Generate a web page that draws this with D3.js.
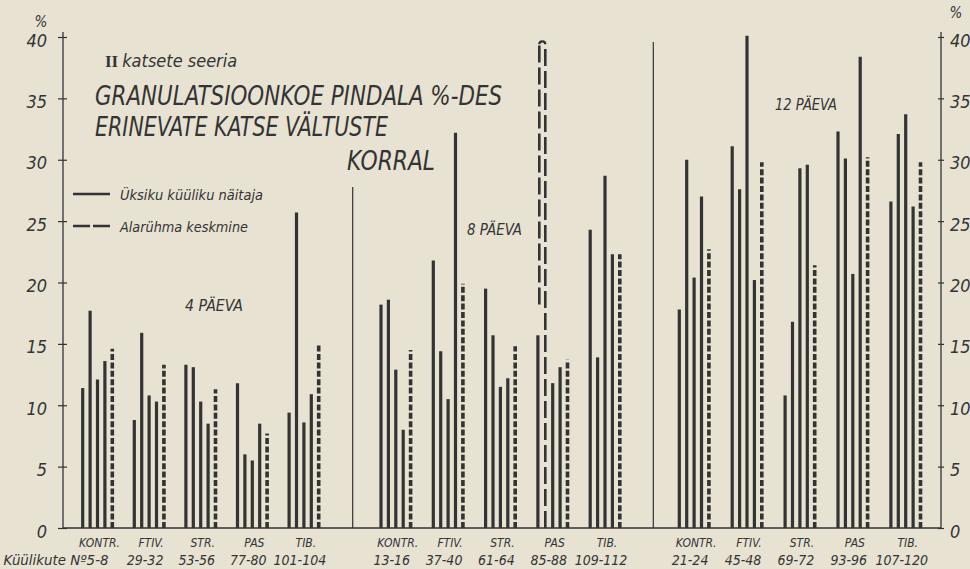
<!DOCTYPE html>
<html><head><meta charset="utf-8">
<script src="https://cdn.jsdelivr.net/npm/d3@7"></script>
<style>
body{margin:0;background:#e7e2d2;}
svg text{font-family:"Liberation Sans Narrow","DejaVu Sans Condensed","Liberation Sans",sans-serif;font-style:italic;fill:#343434;}
</style>
</head><body>
<svg id="c" width="970" height="569"></svg>
<script>
// ---------- DATA ----------
const days = ["4 PÄEVA", "8 PÄEVA", "12 PÄEVA"];
const groups = ["KONTR.", "FTIV.", "STR.", "PAS", "TIB."];
const yTicks = [0, 5, 10, 15, 20, 25, 30, 35, 40];

const animalNos4  = ["5-8", "29-32", "53-56", "77-80", "101-104"];
const animalNos8  = ["13-16", "37-40", "61-64", "85-88", "109-112"];
const animalNos12 = ["21-24", "45-48", "69-72", "93-96", "107-120"];

// individual animals (solid bars), 4 per subgroup
const single4 = [[11.4, 17.7, 12.1, 13.6], [8.8, 15.9, 10.8, 10.3], [13.3, 13.1, 10.3, 8.5], [11.8, 6.0, 5.5, 8.5], [9.4, 25.7, 8.6, 10.9]];
const single8 = [[18.2, 18.6, 12.9, 8.0], [21.8, 14.4, 10.5, 32.2], [19.5, 15.7, 11.5, 12.2], [15.7, 39.4, 11.8, 13.1], [24.3, 13.9, 28.7, 22.3]];
const single12 = [[17.8, 30.0, 20.4, 27.0], [31.1, 27.6, 40.1, 20.2], [10.8, 16.8, 29.3, 29.6], [32.3, 30.1, 20.7, 38.4], [26.6, 32.1, 33.7, 26.2]];

// subgroup means (dashed bars)
const mean4  = [14.6, 13.3, 11.3, 7.7, 14.9];
const mean8  = [14.5, 19.9, 14.8, 13.7, 22.3];
const mean12 = [22.7, 29.8, 21.4, 30.2, 29.8];

// the outlined (dashed) bar in the 8-day PAS subgroup: left edge lower end
const outlineLeftBottom = 18.2;

const titleLines = ["GRANULATSIOONKOE  PINDALA %-DES", "ERINEVATE KATSE VÄLTUSTE", "KORRAL"];
const legendLabels = ["Üksiku küüliku näitaja", "Alarühma keskmine"];

// ---------- BUILD ----------
const singles = [single4, single8, single12];
const means = [mean4, mean8, mean12];
const nos = [animalNos4, animalNos8, animalNos12];

const svg = d3.select("#c");
const ink = "#333333";
svg.append("rect").attr("width", 970).attr("height", 569).attr("fill", "#e7e2d2");

const y = d3.scaleLinear().domain([0, 40]).range([528, 37]);
const xPanel = d3.scalePoint().domain(days).range([82.7, 679.3]);
const groupSteps = [51.6, 52.3, 52.9];
const xGroup = days.map((d, i) => d3.scaleBand().domain(groups).range([0, 5 * groupSteps[i]]));
const xBar = d3.scalePoint().domain([0, 1, 2, 3, 4]).range([0, 29.6]);

const gx = (p, g, b) => xPanel(days[p]) + xGroup[p](groups[g]) + xBar(b);

const bars = [], meanBars = [];
days.forEach((d, p) => groups.forEach((g, gi) => {
  singles[p][gi].forEach((v, b) => bars.push({p, gi, b, v}));
  meanBars.push({p, gi, v: means[p][gi]});
}));

// axes
const left = svg.append("g").attr("transform", "translate(63,0)")
  .call(d3.axisLeft(y).tickValues(yTicks).tickSize(5).tickPadding(11).tickFormat(d3.format("d")));
const right = svg.append("g").attr("transform", "translate(941,0)")
  .call(d3.axisRight(y).tickValues(yTicks).tickSize(3).tickPadding(6).tickFormat(d3.format("d")));
[left, right].forEach((a, i) => {
  a.attr("font-family", null);
  a.select(".domain").remove();
  a.selectAll(".tick line").attr("stroke", ink).attr("stroke-width", 1.2)
    .attr("x1", i === 0 ? 4 : -3);
  a.selectAll(".tick text").attr("font-size", 18).attr("dy", "0.5em").attr("fill", ink)
    .style("font-style", "italic");
  a.append("line").attr("y1", 32).attr("y2", y(0)).attr("stroke", ink).attr("stroke-width", 1.3);
});
svg.append("text").attr("x", 41).attr("y", 27).attr("text-anchor", "middle").attr("font-size", 15).text("%");
svg.append("text").attr("x", 956).attr("y", 18).attr("text-anchor", "middle").attr("font-size", 15).text("%");

// baseline and panel dividers
svg.append("line").attr("x1", 63).attr("x2", 941).attr("y1", y(0)).attr("y2", y(0)).attr("stroke", ink).attr("stroke-width", 1.4);
svg.append("line").attr("x1", 352.7).attr("x2", 352.7).attr("y1", 187).attr("y2", y(0)).attr("stroke", ink).attr("stroke-width", 1.2);
svg.append("line").attr("x1", 653.3).attr("x2", 653.3).attr("y1", 42).attr("y2", y(0)).attr("stroke", ink).attr("stroke-width", 1.2);

// solid bars (individual animals)
const isOutline = d => d.p === 1 && d.gi === 3 && d.b === 1;
svg.append("g").selectAll("line").data(bars.filter(d => !isOutline(d))).join("line")
  .attr("x1", d => gx(d.p, d.gi, d.b)).attr("x2", d => gx(d.p, d.gi, d.b))
  .attr("y1", y(0)).attr("y2", d => y(d.v))
  .attr("stroke", ink).attr("stroke-width", 3.2);

// outlined dashed bar (8 days, PAS)
bars.filter(isOutline).forEach(d => {
  const xr = gx(d.p, d.gi, d.b), xl = xr - 6, yt = y(d.v);
  const g = svg.append("g").attr("stroke", ink).attr("fill", "none").attr("stroke-width", 2.6);
  g.append("line").attr("x1", xr).attr("x2", xr).attr("y1", y(0)).attr("y2", yt).attr("stroke-dasharray", "17,5");
  g.append("line").attr("x1", xl).attr("x2", xl).attr("y1", y(outlineLeftBottom)).attr("y2", yt).attr("stroke-dasharray", "17,5");
  g.append("path").attr("d", `M${xl},${yt} A3,3 0 0 1 ${xr},${yt}`).attr("stroke-width", 2.2);
});

// dashed bars (subgroup means)
svg.append("g").selectAll("line").data(meanBars).join("line")
  .attr("x1", d => gx(d.p, d.gi, 4)).attr("x2", d => gx(d.p, d.gi, 4))
  .attr("y1", y(0)).attr("y2", d => y(d.v))
  .attr("stroke", ink).attr("stroke-width", 3.6).attr("stroke-dasharray", "6,2.4");

// category labels
days.forEach((d, p) => groups.forEach((g, gi) => {
  const c = gx(p, gi, 0) + xBar(4) / 2;
  svg.append("text").attr("x", c + 2).attr("y", 547).attr("text-anchor", "middle").attr("font-size", 12).text(g);
  if (p === 0 && gi === 0) {
    svg.append("text").attr("x", c + 11).attr("y", 565).attr("text-anchor", "end").attr("font-size", 13.5)
      .attr("textLength", 105).attr("lengthAdjust", "spacingAndGlyphs").text("Küülikute Nº" + nos[p][gi]);
  } else {
    svg.append("text").attr("x", c - 4).attr("y", 565).attr("text-anchor", "middle").attr("font-size", 14).text(nos[p][gi]);
  }
}));

// panel labels
const panelLab = [{x: 185, y: 311, w: 58}, {x: 467, y: 235, w: 55}, {x: 775, y: 110, w: 62}];
days.forEach((d, i) => svg.append("text").attr("x", panelLab[i].x).attr("y", panelLab[i].y).attr("font-size", 16)
  .attr("textLength", panelLab[i].w).attr("lengthAdjust", "spacingAndGlyphs").text(d));

// titles
const sub = svg.append("text").attr("x", 105).attr("y", 67).attr("font-size", 18);
sub.append("tspan").attr("font-family", "Liberation Serif, serif").attr("font-style", "normal").attr("font-weight", "bold").attr("font-size", 17).text("II");
sub.append("tspan").attr("dx", 4).text("katsete  seeria");
const tl = [{x: 95, y: 105, w: 407}, {x: 95, y: 135.5, w: 293}, {x: 347, y: 170, w: 88}];
titleLines.forEach((t, i) => svg.append("text").attr("x", tl[i].x).attr("y", tl[i].y).attr("font-size", 26)
  .attr("textLength", tl[i].w).attr("lengthAdjust", "spacingAndGlyphs").text(t));

// legend
svg.append("line").attr("x1", 73).attr("x2", 110).attr("y1", 194).attr("y2", 194).attr("stroke", ink).attr("stroke-width", 2.4);
svg.append("line").attr("x1", 73).attr("x2", 110).attr("y1", 226).attr("y2", 226).attr("stroke", ink).attr("stroke-width", 2.4).attr("stroke-dasharray", "17,3");
svg.append("text").attr("x", 120).attr("y", 200).attr("font-size", 14).attr("textLength", 143).attr("lengthAdjust", "spacingAndGlyphs").text(legendLabels[0]);
svg.append("text").attr("x", 120).attr("y", 232).attr("font-size", 14).attr("textLength", 128).attr("lengthAdjust", "spacingAndGlyphs").text(legendLabels[1]);
</script>
</body></html>
